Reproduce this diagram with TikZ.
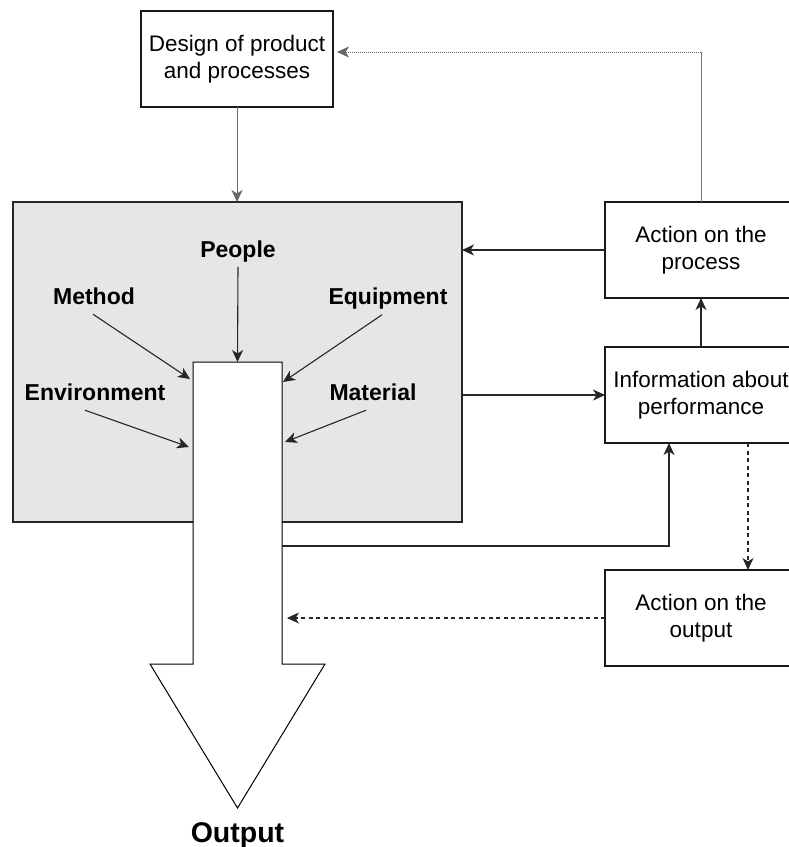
\documentclass[tikz,border=0pt]{standalone}
\usepackage{fontspec}
\setmainfont{Liberation Sans}
\usetikzlibrary{arrows.meta,calc}
\definecolor{procgrey}{HTML}{E6E6E6}

\begin{document}
\begin{tikzpicture}[x=1pt,y=-1pt,
  every node/.style={inner sep=0pt, outer sep=0pt},
  box/.style={draw=black!90, line width=1.2pt, fill=white,
    minimum width=192pt, minimum height=96pt, align=center,
    font=\fontsize{22.5}{27.5}\selectfont},
  factor/.style={font=\fontsize{23}{27}\selectfont\bfseries, anchor=base},
  tip/.style={-{Stealth[length=12pt,width=11pt,inset=3.5pt]}},
  conn/.style={tip, draw=black!85, line width=1.1pt},
  softconn/.style={draw=black!55, line width=1pt},
  dashline/.style={dash pattern=on 4pt off 3.5pt},
  dotline/.style={dash pattern=on 1pt off 1pt},
]
\useasboundingbox (0,0) rectangle (789,847);
\clip (0,0) rectangle (789,847);

% the process area
\node[draw=black!85, line width=1.2pt, fill=procgrey,
      minimum width=449pt, minimum height=320pt] (proc) at (237.5,362) {};

% big output arrow: shaft plus head
\node[minimum width=89pt, minimum height=302pt] (shaft) at (237.5,513) {};
\coordinate (outtip) at (237.5,808);
\draw[line width=1pt, fill=white]
  (shaft.north west) -- (shaft.north east) -- (shaft.south east)
  -- ++(43,0) -- (outtip) -- ($(shaft.south west)+(-43,0)$)
  -- (shaft.south west) -- cycle;
\node[font=\fontsize{28.5}{30}\selectfont\bfseries, anchor=base]
  (outlbl) at (237.5,842) {Output};

% input factors
\node[factor] (people) at (238,257) {People};
\node[factor] (method) at (94,304) {Method};
\node[factor] (equip)  at (388,304) {Equipment};
\node[factor] (env)    at (95,400) {Environment};
\node[factor] (mat)    at (373,400) {Material};

\draw[conn] ($(people.south)+(0,5)$) -- (shaft.north);
\draw[conn] ($(method.south)+(-1,10)$) -- ($(shaft.north west)+(-3,17)$);
\draw[conn] ($(equip.south)+(-6,6)$) -- ($(shaft.north east)+(1,20)$);
\draw[conn] ($(env.south)+(-10,10)$) -- ($(shaft.north west)+(-4,85)$);
\draw[conn] ($(mat.south)+(-7,10)$) -- ($(shaft.north east)+(3,80)$);

% boxes
\node[box] (design) at (237,59)  {Design of product\\and processes};
\node[box] (act)    at (701,250) {Action on the\\process};
\node[box] (info)   at (701,395) {Information about\\performance};
\node[box] (aout)   at (701,618) {Action on the\\output};

% connectors
\draw[conn, draw=black!60, line width=1pt] (design.south) -- (design.south |- proc.north);
\draw[conn] (act.west) -- (act.west -| proc.east);
\draw[conn] (info.west -| proc.east) -- (info.west);
\draw[conn] (info.north) -- (act.south);

\coordinate (corner) at (701,52);
\draw[softconn] (act.north) -- (corner);
\draw[tip, draw=black!60, line width=1pt, dotline, shorten >=4pt]
  (corner) -- (corner -| design.east);

\coordinate (fb) at ($(shaft.north east)+(0,184)$);
\draw[conn] (fb) -| ($(info.south)+(-32,0)$);

\draw[conn, dashline] ($(info.south)+(47,0)$) -- ($(aout.north)+(47,0)$);
\draw[conn, dashline, shorten >=5pt] (aout.west) -- (aout.west -| shaft.east);
\end{tikzpicture}
\end{document}
